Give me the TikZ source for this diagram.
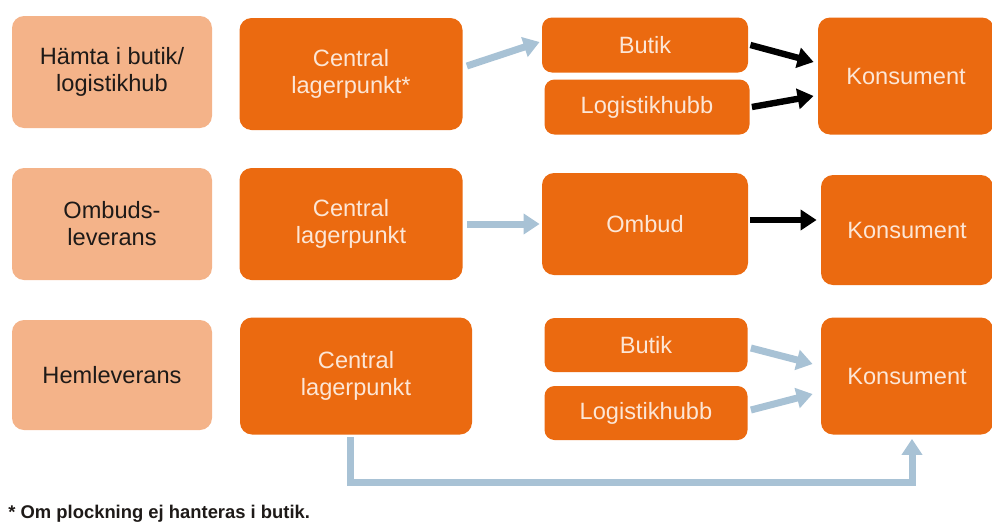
\documentclass[tikz,border=0pt]{standalone}
\usepackage{fontspec}
\setmainfont{Liberation Sans}
\usetikzlibrary{arrows.meta,calc}
\definecolor{BoxOrange}{HTML}{EB6A10}
\definecolor{BoxPeach} {HTML}{F4B389}
\definecolor{BoxText}  {HTML}{FCE6D6}
\definecolor{Ink}      {HTML}{1E1A18}
\definecolor{FlowBlue} {HTML}{A8C2D5}

\begin{document}
\begin{tikzpicture}[x=0.5pt, y=-0.5pt,
  box/.style={rounded corners=6pt, fill=BoxOrange, text=BoxText, align=center,
              inner sep=0pt, font=\fontsize{11.8}{13.5}\selectfont},
  labelbox/.style={box, fill=BoxPeach, text=Ink,
              minimum width=100pt, minimum height=56pt},
  bluearrow/.style={line width=3.5pt, FlowBlue,
              -{Triangle[length=8pt, width=10pt]}},
  blackarrow/.style={line width=3.2pt, black,
              -{Triangle[length=8pt, width=10pt]}}]

  \useasboundingbox (0,0) rectangle (992,525);

  % ===== ROW 1: HAMTA I BUTIK =====
  \node[labelbox] (lab1) at (112,72) {Hämta i butik/\\logistikhub};
  \node[box, minimum width=111.5pt, minimum height=56pt] (cen1) at (351,74)
        {Central\\lagerpunkt*};
  \node[box, rounded corners=5pt, minimum width=103pt, minimum height=27.5pt]
        (but1) at (645,45) {Butik};
  \node[box, rounded corners=5pt, minimum width=102.5pt, minimum height=27.5pt]
        (hub1) at (647,107) {Logistikhubb};
  \node[box, minimum width=88pt, minimum height=58.5pt] (kon1) at (906,76)
        {Konsument};
  \draw[bluearrow]  ($(cen1.east)+(4,-8)$) -- ($(but1.west)+(-2,-3)$);
  \draw[blackarrow] ($(but1.east)+(2,0)$)  -- ($(kon1.west)+(-4,-14)$);
  \draw[blackarrow] ($(hub1.east)+(2,0)$)  -- ($(kon1.west)+(-4,20)$);

  % ===== ROW 2: OMBUDSLEVERANS =====
  \node[labelbox] (lab2) at (112,224) {Ombuds-\\leverans};
  \node[box, minimum width=111.5pt, minimum height=56pt] (cen2) at (351,224)
        {Central\\lagerpunkt};
  \node[box, minimum width=103pt, minimum height=51pt] (omb) at (645,224)
        {Ombud};
  \node[box, minimum width=86pt, minimum height=55pt] (kon2) at (907,230)
        {Konsument};
  \draw[bluearrow]  ($(cen2.east)+(4,0)$) -- ($(omb.west)+(-2,0)$);
  \draw[blackarrow] ($(omb.east)+(2,-4)$) -- ($(kon2.west)+(-4,-10)$);

  % ===== ROW 3: HEMLEVERANS =====
  \node[labelbox, minimum height=55pt] (lab3) at (112,375) {Hemleverans};
  \node[box, minimum width=116pt, minimum height=58.5pt] (cen3) at (356,376)
        {Central\\lagerpunkt};
  \node[box, rounded corners=5pt, minimum width=101.5pt, minimum height=27pt]
        (but3) at (646,345) {Butik};
  \node[box, rounded corners=5pt, minimum width=101.5pt, minimum height=27pt]
        (hub3) at (646,413) {Logistikhubb};
  \node[box, minimum width=86pt, minimum height=58.5pt] (kon3) at (907,376)
        {Konsument};
  \draw[bluearrow] ($(but3.east)+(3,3)$) -- ($(kon3.west)+(-8,-12)$);
  \draw[bluearrow] ($(hub3.east)+(3,-3)$) -- ($(kon3.west)+(-8,18)$);
  % direct home delivery
  \draw[bluearrow] ($(cen3.south)+(-6,2)$) -- ++(0,46)
        -| ($(kon3.south)+(5,4)$);

  % ===== FOOTNOTE =====
  \node[anchor=west, inner sep=0pt, text=Ink,
        font=\fontsize{9.2}{11}\selectfont\bfseries] (note) at (8,514)
        {* Om plockning ej hanteras i butik.};

\end{tikzpicture}
\end{document}
